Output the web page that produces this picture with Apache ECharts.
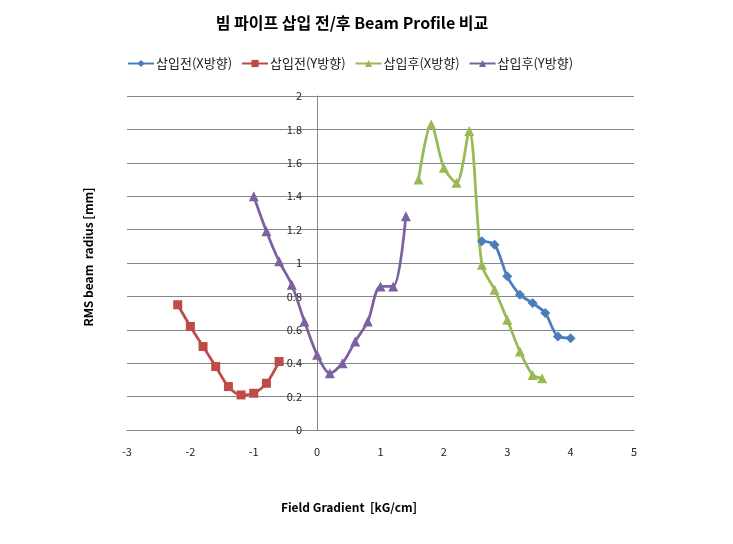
<!DOCTYPE html>
<html><head><meta charset="utf-8">
<script src="https://cdn.jsdelivr.net/npm/echarts@6/dist/echarts.min.js"></script>
<style>html,body{margin:0;padding:0;background:#fff}#c{width:733px;height:544px}</style>
</head><body><div id="c"></div>
<script>
const seriesNames = ['삽입전(X방향)', '삽입전(Y방향)', '삽입후(X방향)', '삽입후(Y방향)'];
const beforeX_x = [2.6, 2.8, 3.0, 3.2, 3.4, 3.6, 3.8, 4.0];
const beforeX_y = [1.13, 1.11, 0.92, 0.81, 0.76, 0.70, 0.56, 0.55];
const beforeY_x = [-2.2, -2.0, -1.8, -1.6, -1.4, -1.2, -1.0, -0.8, -0.6];
const beforeY_y = [0.75, 0.62, 0.50, 0.38, 0.26, 0.21, 0.22, 0.28, 0.41];
const afterX_x = [1.6, 1.8, 2.0, 2.2, 2.4, 2.6, 2.8, 3.0, 3.2, 3.4, 3.55];
const afterX_y = [1.50, 1.83, 1.57, 1.48, 1.79, 0.99, 0.84, 0.66, 0.47, 0.33, 0.31];
const afterY_x = [-1.0, -0.8, -0.6, -0.4, -0.2, 0.0, 0.2, 0.4, 0.6, 0.8, 1.0, 1.2, 1.4];
const afterY_y = [1.40, 1.19, 1.01, 0.87, 0.65, 0.45, 0.34, 0.40, 0.53, 0.65, 0.86, 0.86, 1.28];
const colors = ['#4A7EBB', '#BE4B48', '#98B954', '#7D60A0'];
const symbols = ['diamond', 'rect', 'triangle', 'triangle'];
const symbolSizes = [10, 9, 10, 10];
const titleText = '빔 파이프 삽입 전/후 Beam Profile 비교';
const xName = 'Field Gradient  [kG/cm]';
const yName = 'RMS beam  radius [mm]';

const zip = (xs, ys) => xs.map((x, i) => [x, ys[i]]);
const datasets = [zip(beforeX_x, beforeX_y), zip(beforeY_x, beforeY_y), zip(afterX_x, afterX_y), zip(afterY_x, afterY_y)];
const font = '"Noto Sans CJK KR", "Noto Sans", sans-serif';

const chart = echarts.init(document.getElementById('c'), null, {renderer: 'canvas'});
chart.setOption({
  animation: false,
  color: colors,
  graphic: [
    {type: 'text', position: [352, 23], style: {text: titleText, align: 'center', verticalAlign: 'middle',
      font: 'bold 16px ' + font, fill: '#000'}},
    {type: 'text', position: [349, 507], style: {text: xName, align: 'center', verticalAlign: 'middle',
      font: 'bold 12px ' + font, fill: '#000'}},
    {type: 'text', position: [88, 257], rotation: Math.PI / 2, style: {text: yName, align: 'center', verticalAlign: 'middle',
      font: 'bold 12px ' + font, fill: '#000'}}
  ],
  legend: {
    left: 127, top: 57, padding: 0,
    itemWidth: 26, itemHeight: 9, itemGap: 9,
    textStyle: {fontFamily: font, fontSize: 13, color: '#222', padding: [0, 0, 0, -3]},
    data: seriesNames
  },
  grid: {left: 127, right: 99, top: 96, bottom: 114, outerBoundsMode: 'none', containLabel: false},
  xAxis: {
    type: 'value', min: -3, max: 5, interval: 1,
    axisLine: {onZero: true, lineStyle: {color: '#868686'}},
    axisTick: {show: false},
    axisLabel: {fontFamily: font, fontSize: 11, color: '#222', margin: 16},
    splitLine: {show: false}
  },
  yAxis: {
    type: 'value', min: 0, max: 2, interval: 0.2,
    offset: -190,
    axisLine: {show: true, onZero: false, lineStyle: {color: '#868686'}},
    axisTick: {show: false},
    axisLabel: {fontFamily: font, fontSize: 11, color: '#222', margin: 15},
    splitLine: {show: true, lineStyle: {color: '#868686', width: 1}}
  },
  series: seriesNames.map((n, i) => ({
    name: n, type: 'line', data: datasets[i],
    smooth: 0.3,
    symbol: symbols[i], symbolSize: symbolSizes[i], showAllSymbol: true,
    lineStyle: {width: 2.75, color: colors[i]},
    itemStyle: {color: colors[i]}
  }))
});
</script></body></html>
